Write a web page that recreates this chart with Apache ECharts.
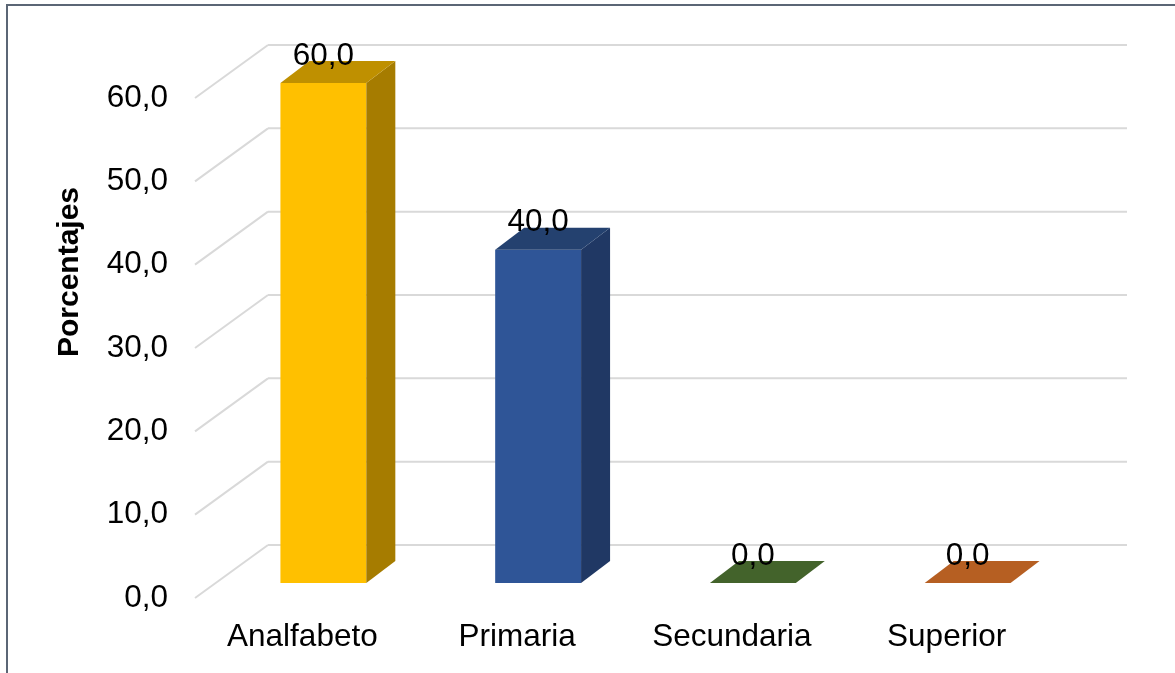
<!DOCTYPE html>
<html>
<head>
<meta charset="utf-8">
<script src="https://cdn.jsdelivr.net/npm/echarts@6/dist/echarts.min.js"></script>
<style>html,body{margin:0;padding:0;background:#fff;}#c{width:1175px;height:673px;}</style>
</head>
<body>
<div id="c"></div>
<script>
const categories = ['Analfabeto', 'Primaria', 'Secundaria', 'Superior'];
const values = [60.0, 40.0, 0.0, 0.0];
const tickValues = [0, 10, 20, 30, 40, 50, 60];
const axisTitle = 'Porcentajes';

const frontColors = ['#FFC000', '#2F5597', '#548235', '#C55A11'];
const sideColors  = ['#A67C00', '#203864', '#385723', '#843C0C'];
const topColors   = ['#BF9000', '#24416F', '#43632B', '#B65F22'];

const WALL = [73, -53];   // depth of the floor/back wall
const BF = [21, -15];     // bar front plane offset
const BB = [50, -37];     // bar back plane offset
const FONT = 'Liberation Sans, Arial, sans-serif';
const FS = 31.5;

const chart = echarts.init(document.getElementById('c'));

function fmt(v) { return v.toFixed(1).replace('.', ','); }

chart.setOption({
  animation: false,
  grid: { left: 195, right: 121, top: 98, bottom: 75 },
  xAxis: {
    type: 'category',
    data: categories,
    axisLine: { show: false },
    axisTick: { show: false },
    axisLabel: { color: '#000', fontSize: FS, fontFamily: FONT, margin: 23 }
  },
  yAxis: {
    type: 'value',
    min: 0, max: 60, interval: 10,
    axisLine: { show: false },
    axisTick: { show: false },
    splitLine: { show: false },
    axisLabel: { color: '#000', fontSize: FS, fontFamily: FONT, margin: 27, padding: [6, 0, 0, 0], formatter: v => fmt(v) }
  },
  graphic: [
    { type: 'rect', shape: { x: 7, y: 5, width: 1300, height: 800 }, style: { fill: 'none', stroke: '#5B6675', lineWidth: 2 }, silent: true, z: -10 },
    { type: 'text', x: 70, y: 272, rotation: Math.PI / 2,
      style: { text: axisTitle, font: 'bold 30px ' + FONT, fill: '#000', align: 'center', verticalAlign: 'middle' } }
  ],
  series: [
    {
      type: 'custom',
      z: 1,
      data: tickValues.map(v => [0, v]),
      renderItem: function (params, api) {
        const cs = params.coordSys;
        const y = api.coord([0, api.value(1)])[1];
        const x0 = cs.x;
        const x1 = cs.x + cs.width;
        return {
          type: 'group',
          children: [
            { type: 'line', shape: { x1: x0, y1: y, x2: x0 + WALL[0], y2: y + WALL[1] }, style: { stroke: '#D9D9D9', lineWidth: 2 } },
            { type: 'line', shape: { x1: x0 + WALL[0], y1: y + WALL[1], x2: x1 + WALL[0], y2: y + WALL[1] }, style: { stroke: '#D9D9D9', lineWidth: 2 } }
          ]
        };
      }
    },
    {
      type: 'custom',
      z: 2,
      data: values.map((v, i) => [i, v]),
      renderItem: function (params, api) {
        const i = api.value(0);
        const v = api.value(1);
        const top = api.coord([i, v]);
        const base = api.coord([i, 0]);
        const hw = api.size([1, 0])[0] * 0.2;
        const cx = top[0];
        const fl = cx - hw + BF[0], fr = cx + hw + BF[0];
        const ft = top[1] + BF[1], fb = base[1] + BF[1];
        const ddx = BB[0] - BF[0], ddy = BB[1] - BF[1];
        const children = [];
        if (fb - ft > 0.5) {
          children.push({ type: 'polygon', shape: { points: [[fl, ft], [fr, ft], [fr, fb], [fl, fb]] }, style: { fill: frontColors[i] } });
          children.push({ type: 'polygon', shape: { points: [[fr, ft], [fr + ddx, ft + ddy], [fr + ddx, fb + ddy], [fr, fb]] }, style: { fill: sideColors[i] } });
        }
        children.push({ type: 'polygon', shape: { points: [[fl, ft], [fr, ft], [fr + ddx, ft + ddy], [fl + ddx, ft + ddy]] }, style: { fill: topColors[i] } });
        children.push({ type: 'text', x: cx + BF[0], y: ft - 27,
          style: { text: fmt(v), font: FS + 'px ' + FONT, fill: '#000', align: 'center', verticalAlign: 'middle' } });
        return { type: 'group', children: children };
      }
    }
  ]
});
</script>
</body>
</html>
